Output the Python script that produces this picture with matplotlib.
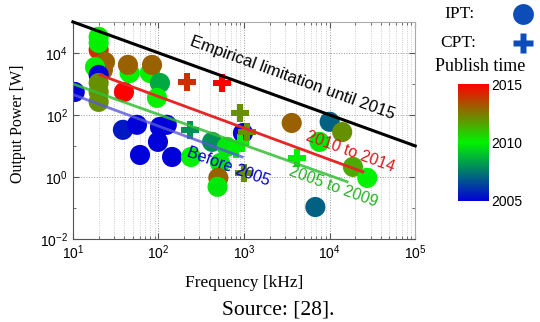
import numpy as np
import matplotlib
matplotlib.use("Agg")
import matplotlib.pyplot as plt
from matplotlib.colors import LinearSegmentedColormap, Normalize
from matplotlib.lines import Line2D
from matplotlib.ticker import LogLocator, NullFormatter

# inductive power transfer (circles)
ipt_freq = [20, 20, 20, 23.7, 22.4, 18.1, 20, 20, 20, 20,
            10.5, 39.5, 46, 44, 79.5, 84, 104, 96,
            38.4, 56, 60.8, 98.6, 104, 125, 144,
            240, 423, 630, 525, 500, 490, 970,
            3600, 10000, 14000, 7600, 18700, 27500, 6800]
ipt_power = [12500, 33000, 21000, 5100, 2800, 3500, 1950, 1070, 550, 263,
             550, 550, 2250, 4100, 2250, 4100, 1070, 355,
             33, 48, 5.1, 13.5, 41, 48, 4.4,
             4.4, 13.5, 9.3, 2.8, 0.93, 0.48, 26,
             55, 60, 28, 13.5, 2.1, 0.93, 0.107]
ipt_year = [2014, 2010, 2010, 2013, 2013, 2010, 2005, 2012, 2012, 2012,
            2005, 2015, 2010, 2013, 2010, 2013, 2008.5, 2010,
            2005.5, 2005, 2005, 2005, 2005, 2005, 2005,
            2010, 2008, 2009.8, 2009.8, 2013, 2009.8, 2005,
            2013, 2007, 2012, 2009.8, 2011.5, 2010, 2007]

# capacitive power transfer (plus)
cpt_freq = [215, 550, 890, 233, 890, 800, 1000, 4200, 1080]
cpt_power = [1150, 1100, 115, 33, 12.5, 8, 1.35, 4.1, 28]
cpt_year = [2014, 2015, 2012, 2008, 2010, 2010, 2012, 2010, 2012]

# trend lines (freq, power at ends)
limit_f, limit_p = [10, 1e5], [1e5, 10]
red_f, red_p = [20.7, 24500], [1950, 1.45]
green_f, green_p = [10, 16000], [1000, 0.7]
blue_f, blue_p = [10.3, 950], [440, 4.4]

cmap = LinearSegmentedColormap.from_list(
    "pub", [(0.0, 0.0, 0.85), (0.0, 0.95, 0.0), (1.0, 0.0, 0.0)])
norm = Normalize(2005, 2015)

plt.rcParams["font.family"] = ["Liberation Sans", "DejaVu Sans"]
serif = ["Liberation Serif", "DejaVu Serif"]

fig = plt.figure(figsize=(5.4, 3.22), dpi=100, facecolor="w")
ax = fig.add_axes([0.135, 0.258, 0.634, 0.674])
ax.set_xscale("log")
ax.set_yscale("log")
ax.set_xlim(10, 1e5)
ax.set_ylim(1e-2, 1e5)

ax.plot(blue_f, blue_p, color=(0.35, 0.35, 0.85), lw=2, alpha=0.8, zorder=3)
ax.plot(green_f, green_p, color=(0.2, 0.75, 0.2), lw=2, alpha=0.85, zorder=3)
ax.plot(red_f, red_p, color=(0.9, 0.15, 0.15), lw=2, zorder=3)

ax.scatter(ipt_freq, ipt_power, c=ipt_year, cmap=cmap, norm=norm,
           s=210, marker="o", edgecolors="none", zorder=2)
ax.scatter(cpt_freq, cpt_power, c=cpt_year, cmap=cmap, norm=norm,
           s=170, marker="P", edgecolors="none", zorder=2.5)

ax.plot(limit_f, limit_p, color="k", lw=2.2, zorder=4, clip_on=False)

ax.text(3700, 1500, "Empirical limitation until 2015", rotation=-20,
        ha="center", va="center", fontsize=12, zorder=5)
ax.text(17400, 6.4, "2010 to 2014", rotation=-20, ha="center", va="center",
        fontsize=11.5, color=(0.85, 0.1, 0.1), zorder=5)
ax.text(11000, 0.48, "2005 to 2009", rotation=-20, ha="center", va="center",
        fontsize=11.5, color=(0.15, 0.7, 0.15), zorder=5)
ax.text(665, 2.1, "Before 2005", rotation=-20, ha="center", va="center",
        fontsize=11.5, color=(0.0, 0.0, 0.8), zorder=5)

ax.set_yticks([1e-2, 1, 1e2, 1e4])
ax.yaxis.set_minor_locator(LogLocator(base=10, subs=[1.0], numticks=20))
ax.yaxis.set_minor_formatter(NullFormatter())
ax.xaxis.set_minor_locator(LogLocator(base=10, subs=np.arange(2, 10), numticks=20))
ax.xaxis.set_minor_formatter(NullFormatter())
ax.tick_params(which="both", direction="in", top=True, right=True,
               labelsize=10, color="#555555")
ax.tick_params(which="major", length=4)
ax.tick_params(which="minor", length=2)
ax.grid(True, which="major", axis="both", ls=":", color="#999999", lw=0.7)
ax.grid(True, which="minor", axis="x", ls=":", color="#bbbbbb", lw=0.6)
for side in ["left", "bottom"]:
    ax.spines[side].set_color("#555555")
for side in ["top", "right"]:
    ax.spines[side].set_color("#aaaaaa")

ax.set_xlabel("Frequency [kHz]", family=serif, fontsize=12.5)
ax.set_ylabel("Output Power [W]", family=serif, fontsize=11.5)
ax.xaxis.set_label_coords(0.5, -0.165)
ax.yaxis.set_label_coords(-0.16, 0.53)
ax.yaxis.label.set_va("center")

# colorbar
cax = fig.add_axes([0.848, 0.376, 0.057, 0.363])
sm = matplotlib.cm.ScalarMappable(norm=norm, cmap=cmap)
cb = fig.colorbar(sm, cax=cax, ticks=[2005, 2010, 2015])
cb.ax.set_yticklabels(["2005", "2010", "2015"])
cb.ax.tick_params(labelsize=10, length=0, pad=2)
cb.outline.set_visible(False)

# legend
fig.text(0.822, 0.955, "IPT:", family=serif, fontsize=12.5, va="center")
fig.text(0.815, 0.868, "CPT:", family=serif, fontsize=12.5, va="center")
fig.text(0.805, 0.795, "Publish time", family=serif, fontsize=13, va="center")
fig.add_artist(Line2D([0.968], [0.955], marker="o", ms=15, color=(0.05, 0.3, 0.72),
                      mec="none", transform=fig.transFigure))
fig.add_artist(Line2D([0.968], [0.868], marker="P", ms=14, color=(0.05, 0.3, 0.72),
                      mec="none", transform=fig.transFigure))

fig.text(0.515, 0.037, "Source: [28].", family=serif, fontsize=15.5,
         ha="center", va="center")

fig.savefig("out.png", dpi=100)
